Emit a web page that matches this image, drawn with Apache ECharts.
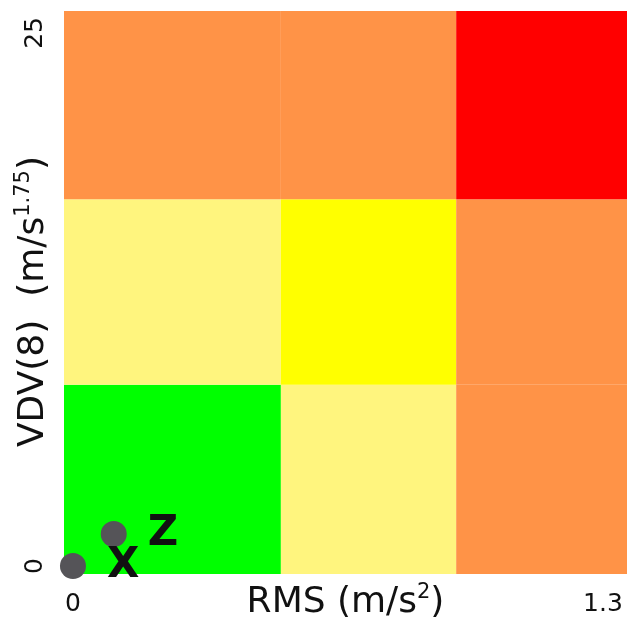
<!DOCTYPE html>
<html>
<head>
<meta charset="utf-8">
<script src="https://cdn.jsdelivr.net/npm/echarts@6/dist/echarts.min.js"></script>
<style>
  html, body { margin: 0; padding: 0; background: #fff; }
  #main { width: 633px; height: 626px; }
</style>
</head>
<body>
<div id="main"></div>
<script>
// zone limits (RMS on x, VDV on y)
var rmsLimits = [0.51, 0.94];
var vdvLimits = [8.5, 17.2];
// zone colours, bottom row first, left to right
var zoneColors = [
    ['#00ff00', '#fff57e', '#ff9347'],
    ['#fff57e', '#ffff00', '#ff9347'],
    ['#ff9347', '#ff9347', '#ff0000']
];
// measured axes
var pointNames = ['X', 'Z'];
var pointRms = [0, 0.1];
var pointVdv = [0, 1.5];
var xTicks = [0, 1.3];
var yTicks = [0, 25];

var xMin = -0.022, xMax = 1.359;
var yMin = -0.375, yMax = 26.03;

var myChart = echarts.init(document.getElementById('main'));

var xEdges = [xMin].concat(rmsLimits).concat([xMax]);
var yEdges = [yMin].concat(vdvLimits).concat([yMax]);
var cells = [];
for (var r = 0; r < 3; r++) {
    for (var c = 0; c < 3; c++) {
        cells.push([c, r]);
    }
}
var points = [];
for (var i = 0; i < pointNames.length; i++) {
    points.push({name: pointNames[i], value: [pointRms[i], pointVdv[i]]});
}

var font = 'DejaVu Sans, Liberation Sans, sans-serif';
var nameRich = {
    b: {fontSize: 36, lineHeight: 42, color: '#111', fontFamily: font},
    s: {fontSize: 21, verticalAlign: 'top', lineHeight: 24, color: '#111', fontFamily: font}
};

var option = {
    animation: false,
    grid: {left: 64, right: 6, top: 11, bottom: 52, outerBoundsMode: 'none'},
    xAxis: {
        type: 'value',
        min: xMin,
        max: xMax,
        name: '{b|RMS (m/s}{s|2}{b|)}',
        nameLocation: 'middle',
        nameGap: 8,
        nameMoveOverlap: false,
        nameTextStyle: {color: '#111', fontFamily: font, verticalAlign: 'top', rich: nameRich},
        axisLine: {show: false},
        axisTick: {show: false},
        splitLine: {show: false},
        axisLabel: {
            customValues: xTicks,
            fontSize: 25,
            color: '#111',
            fontFamily: font,
            margin: 18,
            formatter: function (v) { return String(v); }
        }
    },
    yAxis: {
        type: 'value',
        min: yMin,
        max: yMax,
        name: '{b|VDV(8)  (m/s}{s|1.75}{b|)}',
        nameLocation: 'middle',
        nameGap: 9,
        nameRotate: 90,
        nameMoveOverlap: false,
        nameTextStyle: {
            color: '#111',
            fontFamily: font,
            verticalAlign: 'bottom',
            padding: [0, 18, 0, 0],
            rich: nameRich
        },
        axisLine: {show: false},
        axisTick: {show: false},
        splitLine: {show: false},
        axisLabel: {
            customValues: yTicks,
            fontSize: 25,
            color: '#111',
            fontFamily: font,
            rotate: 90,
            margin: 16,
            formatter: function (v) { return String(v); }
        }
    },
    series: [
        {
            type: 'custom',
            silent: true,
            data: cells,
            renderItem: function (params, api) {
                var c = api.value(0), r = api.value(1);
                var p0 = api.coord([xEdges[c], yEdges[r + 1]]);
                var p1 = api.coord([xEdges[c + 1], yEdges[r]]);
                return {
                    type: 'rect',
                    shape: {x: p0[0], y: p0[1], width: p1[0] - p0[0], height: p1[1] - p0[1]},
                    style: {fill: zoneColors[r][c]}
                };
            },
            z: 1
        },
        {
            type: 'scatter',
            data: points,
            symbolSize: 26,
            itemStyle: {color: '#555458', opacity: 1},
            label: {
                show: true,
                position: 'right',
                distance: 21,
                formatter: '{b}',
                fontSize: 42,
                fontWeight: 'bold',
                color: '#111',
                fontFamily: font
            },
            z: 3
        }
    ]
};
myChart.setOption(option);
</script>
</body>
</html>
